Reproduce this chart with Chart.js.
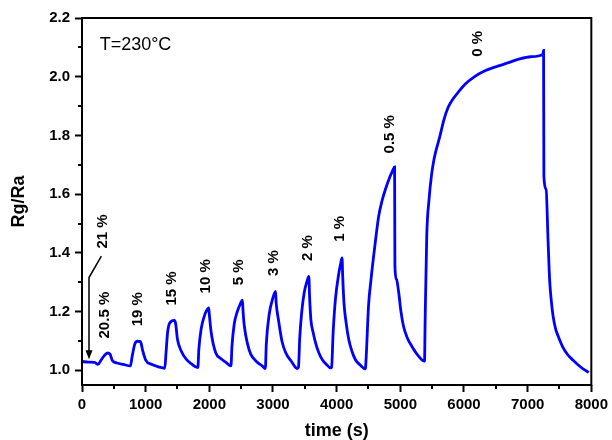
<!DOCTYPE html>
<html>
<head>
<meta charset="utf-8">
<script src="https://cdn.jsdelivr.net/npm/chart.js@4"></script>
<style>
  body { margin: 0; background: #fff; }
</style>
</head>
<body>
<canvas id="responseChart" width="612" height="440"></canvas>
<script>
// sensor response Rg/Ra vs time at 230 C, stepped O2 concentrations
const timeS = [0, 100, 200, 250, 300, 350, 400, 440, 480, 550, 650, 760,
  790, 830, 870, 920, 950, 1000, 1100, 1200, 1300,
  1320, 1345, 1380, 1450, 1470, 1500, 1560, 1640, 1720, 1820,
  1835, 1870, 1920, 1960, 1990, 2000, 2030, 2100, 2180, 2260, 2340,
  2355, 2390, 2440, 2490, 2520, 2530, 2550, 2600, 2650, 2740, 2830, 2880,
  2895, 2940, 2990, 3040, 3050, 3085, 3140, 3200, 3290, 3380,
  3400, 3420, 3450, 3490, 3530, 3563, 3575, 3595, 3630, 3670, 3720, 3775, 3840, 3905,
  3920, 3945, 3980, 4035, 4060, 4085, 4095, 4115, 4150, 4190, 4240, 4295, 4370, 4450,
  4465, 4500, 4540, 4580, 4620, 4660, 4710, 4765, 4840, 4880, 4910,
  4915, 4940, 4975, 5010, 5050, 5110, 5180, 5280, 5380,
  5390, 5415, 5450, 5490, 5530, 5625, 5680, 5750, 5830, 5920, 6020, 6150, 6330,
  6530, 6700, 6850, 7050, 7240, 7250,
  7255, 7290, 7320, 7345, 7370, 7400, 7440, 7480, 7550, 7630, 7710, 7790, 7870, 7960];
const ratio = [1.030, 1.028, 1.027, 1.020, 1.035, 1.050, 1.059, 1.055, 1.032, 1.025, 1.020, 1.015,
  1.050, 1.090, 1.099, 1.097, 1.070, 1.035, 1.020, 1.012, 1.007,
  1.060, 1.130, 1.162, 1.170, 1.160, 1.105, 1.065, 1.037, 1.022, 1.009,
  1.070, 1.139, 1.184, 1.205, 1.213, 1.190, 1.128, 1.060, 1.040, 1.027, 1.015,
  1.080, 1.156, 1.201, 1.228, 1.239, 1.200, 1.150, 1.090, 1.055, 1.030, 1.015, 1.006,
  1.090, 1.190, 1.240, 1.269, 1.230, 1.173, 1.100, 1.060, 1.030, 1.006,
  1.010, 1.110, 1.196, 1.264, 1.300, 1.320, 1.250, 1.173, 1.130, 1.093, 1.060, 1.036, 1.020, 1.008,
  1.010, 1.130, 1.241, 1.332, 1.360, 1.383, 1.320, 1.230, 1.160, 1.105, 1.065, 1.036, 1.018, 1.005,
  1.050, 1.218, 1.310, 1.388, 1.460, 1.525, 1.575, 1.616, 1.661, 1.680, 1.693,
  1.354, 1.310, 1.264, 1.200, 1.150, 1.110, 1.082, 1.050, 1.031,
  1.173, 1.457, 1.580, 1.665, 1.720, 1.800, 1.850, 1.895, 1.925, 1.950, 1.975, 1.998, 2.020,
  2.036, 2.048, 2.059, 2.068, 2.076, 2.090,
  1.661, 1.616, 1.445, 1.309, 1.240, 1.184, 1.140, 1.116, 1.080, 1.053, 1.035, 1.019, 1.005, 0.993];

const xTickValues = [0, 1000, 2000, 3000, 4000, 5000, 6000, 7000, 8000];
const xMinorValues = [500, 1500, 2500, 3500, 4500, 5500, 6500, 7500];
const yTickValues = [1.0, 1.2, 1.4, 1.6, 1.8, 2.0, 2.2];
const yMinorValues = [1.1, 1.3, 1.5, 1.7, 1.9, 2.1];

// O2 concentration labels, anchored in data units (time, ratio)
const concText = ['21 %', '20.5 %', '19 %', '15 %', '10 %', '5 %', '3 %', '2 %', '1 %', '0.5 %', '0 %'];
const concTime = [332, 363, 872, 1404, 1944, 2470, 3009, 3541, 4058, 4840, 6218];
const concRatio = [1.473, 1.188, 1.208, 1.279, 1.320, 1.334, 1.365, 1.416, 1.482, 1.804, 2.112];

const tempText = 'T=230\u00B0C';
const arrowTime = [304, 110, 110];
const arrowRatio = [1.389, 1.316, 1.038];

const FONT = "'Liberation Sans', Arial, sans-serif";

const decor = {
  id: 'decor',
  afterDraw(chart) {
    const ctx = chart.ctx;
    const area = chart.chartArea;
    const xs = chart.scales.x, ys = chart.scales.y;
    ctx.save();
    ctx.strokeStyle = '#000';
    ctx.lineWidth = 2;
    ctx.strokeRect(area.left, area.top, area.right - area.left, area.bottom - area.top);

    // minor ticks
    ctx.beginPath();
    xMinorValues.forEach(v => {
      const px = Math.round(xs.getPixelForValue(v));
      ctx.moveTo(px, area.bottom);
      ctx.lineTo(px, area.bottom + 4);
    });
    yMinorValues.forEach(v => {
      const py = Math.round(ys.getPixelForValue(v));
      ctx.moveTo(area.left, py);
      ctx.lineTo(area.left - 4, py);
    });
    ctx.stroke();

    ctx.fillStyle = '#000';
    ctx.font = '18px ' + FONT;
    ctx.textAlign = 'left';
    ctx.textBaseline = 'middle';
    ctx.fillText(tempText, xs.getPixelForValue(277), ys.getPixelForValue(2.107));

    ctx.font = 'bold 15px ' + FONT;
    ctx.textAlign = 'center';
    concText.forEach((t, i) => {
      ctx.save();
      ctx.translate(xs.getPixelForValue(concTime[i]), ys.getPixelForValue(concRatio[i]));
      ctx.rotate(-Math.PI / 2);
      ctx.fillText(t, 0, 0);
      ctx.restore();
    });

    // arrow pointing at the 21 % baseline
    const ax = arrowTime.map(v => xs.getPixelForValue(v));
    const ay = arrowRatio.map(v => ys.getPixelForValue(v));
    ctx.lineWidth = 1.5;
    ctx.beginPath();
    ctx.moveTo(ax[0], ay[0]);
    ctx.lineTo(ax[1], ay[1]);
    ctx.lineTo(ax[2], ay[2] - 6);
    ctx.stroke();
    ctx.beginPath();
    ctx.moveTo(ax[2], ay[2]);
    ctx.lineTo(ax[2] - 3.5, ay[2] - 9);
    ctx.lineTo(ax[2] + 3.5, ay[2] - 9);
    ctx.closePath();
    ctx.fill();
    ctx.restore();
  }
};

const tickFont = { family: FONT, size: 15, weight: 'bold' };
const titleFont = { family: FONT, size: 18, weight: 'bold' };

new Chart(document.getElementById('responseChart').getContext('2d'), {
  type: 'line',
  data: {
    datasets: [{
      data: timeS.map((t, i) => ({ x: t, y: ratio[i] })),
      borderColor: '#0000ff',
      borderWidth: 2.8,
      pointRadius: 0,
      cubicInterpolationMode: 'monotone',
      fill: false
    }]
  },
  options: {
    responsive: false,
    animation: false,
    layout: { padding: { left: 0, top: 18, right: 19, bottom: 0 } },
    plugins: { legend: { display: false }, tooltip: { enabled: false } },
    scales: {
      x: {
        type: 'linear',
        min: 0,
        max: 8000,
        afterBuildTicks: s => { s.ticks = xTickValues.map(v => ({ value: v })); },
        afterFit: s => { s.height = 55; },
        border: { display: false },
        grid: { drawOnChartArea: false, tickLength: 7, tickWidth: 2, tickColor: '#000' },
        ticks: { color: '#000', font: tickFont, padding: 4, maxRotation: 0, autoSkip: false,
          callback: v => String(v) },
        title: { display: true, text: 'time (s)', color: '#000', font: titleFont, padding: { top: 0, bottom: -2 } }
      },
      y: {
        min: 0.95,
        max: 2.2,
        afterBuildTicks: s => { s.ticks = yTickValues.map(v => ({ value: v })); },
        afterFit: s => { s.width = 82; },
        border: { display: false },
        grid: { drawOnChartArea: false, tickLength: 7, tickWidth: 2, tickColor: '#000' },
        ticks: { color: '#000', font: tickFont, padding: 5, autoSkip: false,
          callback: v => v.toFixed(1) },
        title: { display: true, text: 'Rg/Ra', color: '#000', font: titleFont, padding: { top: 8, bottom: 0 } }
      }
    }
  },
  plugins: [decor]
});
</script>
</body>
</html>
